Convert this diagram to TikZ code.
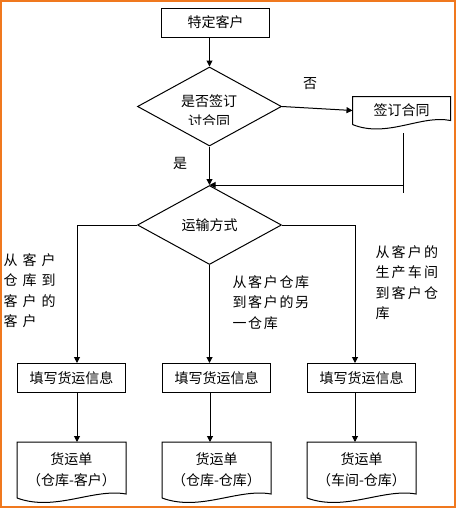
\documentclass[tikz,border=0pt]{standalone}
\usepackage{fontspec}
\setmainfont{Noto Sans CJK SC}
\newfontfamily\cjkmid[LetterSpace=12]{Noto Sans CJK SC}
\newfontfamily\cjkright[LetterSpace=16]{Noto Sans CJK SC}
\newfontfamily\cjkwide[LetterSpace=36]{Noto Sans CJK SC}
\usetikzlibrary{arrows.meta,positioning,shapes.geometric,calc}
\definecolor{frameorange}{RGB}{240,120,30}

\begin{document}
\begin{tikzpicture}[
  x=1pt, y=-1pt, line width=1pt,
  box/.style={draw, minimum width=108pt, minimum height=29pt, inner sep=0pt},
  decision/.style={draw, diamond, minimum width=144pt, minimum height=79pt, inner sep=0pt},
  docbox/.style={minimum width=108pt, minimum height=55pt, inner sep=0pt, align=center},
  arrow/.style={-{Triangle[length=6pt,width=6pt]}},
  note/.style={align=left, inner sep=0pt, anchor=north west},
  every node/.style={font=\fontsize{14pt}{20.5pt}\selectfont}
]
\useasboundingbox (0,0) rectangle (456,509);
\draw[frameorange, line width=2pt] (1,1) rectangle (455,507);

\node[box] (start) at (215.5,22.5) {特定客户};
\node[decision] (q1) at (209.5,106.5) {};
\begin{scope}
  \clip (140,60) rectangle (280,124.5);
  \node[align=center] (q1txt) at (209,111) {是否签订\\讨合同};
\end{scope}
\node[docbox, minimum width=97pt, minimum height=27pt] (sign) at (401.5,110.5) {签订合同};
\node[decision] (q2) at (209.5,225) {运输方式};

\node[box] (fill1) at (71.5,378) {填写货运信息};
\node[box, right=36pt of fill1] (fill2) {填写货运信息};
\node[box, right=36pt of fill2] (fill3) {填写货运信息};
\node[docbox, below=49pt of fill1] (bill1) {货运单\\（仓库-客户）};
\node[docbox, below=49pt of fill2] (bill2) {货运单\\（仓库-仓库）};
\node[docbox, below=49pt of fill3] (bill3) {货运单\\（车间-仓库）};

% document outlines with wavy bottom
\foreach \d in {sign, bill1, bill2, bill3}
  \draw (\d.south west) -- (\d.north west) -- (\d.north east) -- ($(\d.south east)+(0,-4)$)
    .. controls ($(\d.south west)!0.7!(\d.south east)+(0,-10)$)
       and ($(\d.south west)!0.35!(\d.south east)+(0,14)$) .. (\d.south west);

\draw[arrow] (q1.north |- start.south) -- (q1.north);
\draw[arrow] (q1.east) -- (sign.west);
\node (no) at (310,84) {否};
\draw[arrow] (q1.south) -- (q2.north);
\node (yes) at (180,163) {是};

\coordinate (jtop) at (403,133);
\coordinate (jbot) at (403,193);
\coordinate (jmid) at (403,185);
\coordinate (join) at (209.5,185);
\draw (jtop) -- (jbot);
\draw[arrow] (jmid) -- (join);

\draw[arrow] (q2.west) -| ([xshift=5.5pt]fill1.north);
\draw[arrow] (q2.south) -- (q2.south |- fill2.north);
\draw[arrow] (q2.east) -| ([xshift=-6.5pt]fill3.north);

\draw[arrow] ([xshift=5.5pt]fill1.south) -- ([xshift=5.5pt]bill1.north);
\draw[arrow] ([xshift=-6.5pt]fill2.south) -- ([xshift=-6.5pt]bill2.north);
\draw[arrow] ([xshift=-6.5pt]fill3.south) -- ([xshift=-6.5pt]bill3.north);

% branch notes
\node[note, font={\cjkwide\fontsize{14pt}{20.5pt}\selectfont}] (noteleft) at (3,253) {从客户\\仓库到\\客户的\\客户};
\node[note, font={\cjkmid\fontsize{14pt}{20.5pt}\selectfont}] (notemid) at (232,275) {从客户仓库\\到客户的另\\一仓库};
\node[note, font={\cjkright\fontsize{14pt}{20.5pt}\selectfont}] (noteright) at (375,245) {从客户的\\生产车间\\到客户仓\\库};

\end{tikzpicture}
\end{document}
